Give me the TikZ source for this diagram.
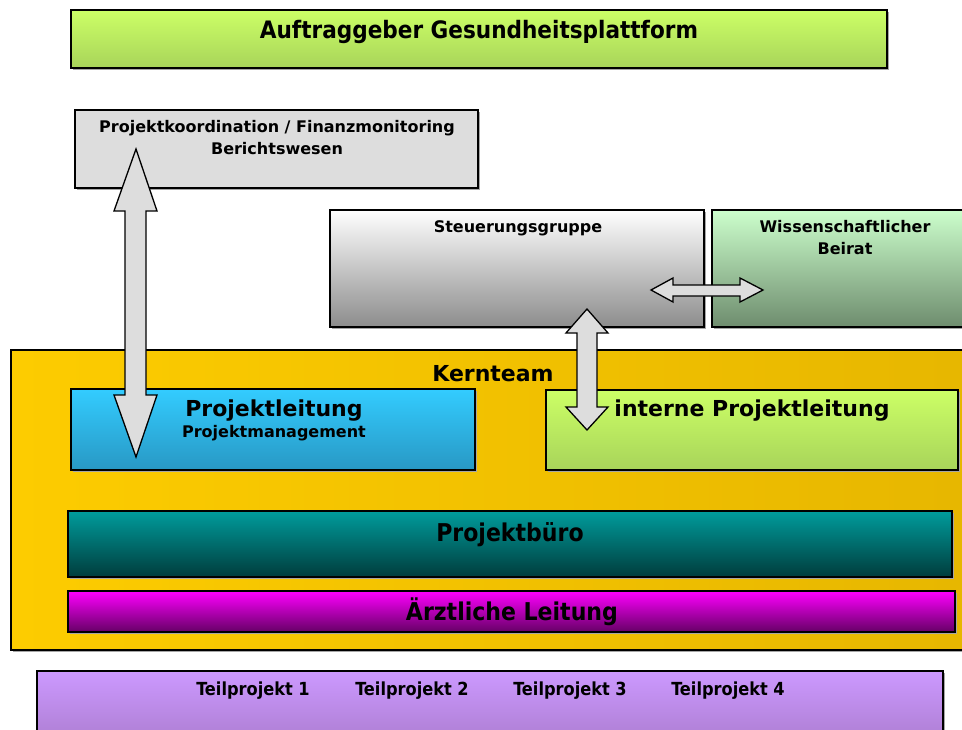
\documentclass[tikz,border=0pt]{standalone}
\usepackage{fontspec}
\setmainfont{DejaVu Sans}
\newfontfamily\condfont{DejaVu Sans Condensed}
\usetikzlibrary{shadows}

\definecolor{limetop}{HTML}{CCFF66}
\definecolor{limebot}{HTML}{A8D45A}
\definecolor{boxgray}{HTML}{DDDDDD}
\definecolor{steertop}{HTML}{FFFFFF}
\definecolor{steerbot}{HTML}{8C8C8C}
\definecolor{beirattop}{HTML}{CCFFCC}
\definecolor{beiratbot}{HTML}{6E8C6E}
\definecolor{kerntl}{HTML}{FDCC00}
\definecolor{kernbr}{HTML}{E6B600}
\definecolor{pltop}{HTML}{33CCFF}
\definecolor{plbot}{HTML}{2898C4}
\definecolor{buerotop}{HTML}{009C9C}
\definecolor{buerobot}{HTML}{003C3C}
\definecolor{arzttop}{HTML}{FF00FF}
\definecolor{arztbot}{HTML}{660066}
\definecolor{tptop}{HTML}{CC99FF}
\definecolor{tpbot}{HTML}{A97ACC}
\definecolor{arrowfill}{HTML}{DDDDDD}

\tikzset{
  orgbox/.style={draw=black, line width=1.6pt, inner sep=0pt, outer sep=0pt,
    anchor=north west,
    general shadow={fill=black!35, shadow xshift=1.5pt, shadow yshift=-1.5pt}},
  blockarrow/.style={fill=arrowfill, draw=black, line width=1.3pt, line join=miter},
  lbl/.style={anchor=base, inner sep=0pt, font=\bfseries},
  clbl/.style={anchor=base, inner sep=0pt, font=\condfont\bfseries},
  smalltxt/.style={lbl, font=\bfseries\fontsize{16}{19}\selectfont},
  bigtxt/.style={lbl, font=\bfseries\fontsize{22}{26}\selectfont},
  condtxt/.style={clbl, font=\condfont\bfseries\fontsize{24.5}{28}\selectfont},
}

\begin{document}
\begin{tikzpicture}[x=1pt, y=-1pt]
\clip (0,0) rectangle (962,729);
\fill[white] (0,0) rectangle (962,729);

% client
\node[orgbox, top color=limetop, bottom color=limebot,
      minimum width=816pt, minimum height=58pt] (client) at (71,10) {};
\node[condtxt, font=\condfont\bfseries\fontsize{24}{28}\selectfont] (clientlbl) at (479,38) {Auftraggeber Gesundheitsplattform};

% coordination
\node[orgbox, fill=boxgray, minimum width=403pt, minimum height=78pt] (koord) at (75,110) {};
\node[smalltxt] (koordA) at (277,132) {Projektkoordination / Finanzmonitoring};
\node[smalltxt] (koordB) at (277,154) {Berichtswesen};

% steering group and advisory board
\node[orgbox, top color=steertop, bottom color=steerbot,
      minimum width=374pt, minimum height=117pt] (steer) at (330,210) {};
\node[smalltxt] (steerlbl) at (518,232) {Steuerungsgruppe};

\node[orgbox, top color=beirattop, bottom color=beiratbot,
      minimum width=270pt, minimum height=117pt] (beirat) at (712,210) {};
\node[smalltxt] (beiratA) at (845,232) {Wissenschaftlicher};
\node[smalltxt] (beiratB) at (845,254) {Beirat};

% core team
\node[orgbox, shading=axis, shading angle=45, left color=kerntl, right color=kernbr,
      minimum width=990pt, minimum height=300pt] (kern) at (11,350) {};
\node[bigtxt] (kernlbl) at (493,381) {Kernteam};

\node[orgbox, top color=pltop, bottom color=plbot,
      minimum width=404pt, minimum height=81pt] (pl) at (71,389) {};
\node[bigtxt] (plA) at (274,416) {Projektleitung};
\node[smalltxt] (plB) at (274,437) {Projektmanagement};

\node[orgbox, top color=limetop, bottom color=limebot,
      minimum width=412pt, minimum height=80pt] (ipl) at (546,390) {};
\node[bigtxt] (ipllbl) at (752,416) {interne Projektleitung};

\node[orgbox, top color=buerotop, bottom color=buerobot,
      minimum width=884pt, minimum height=66pt] (buero) at (68,511) {};
\node[condtxt] (buerolbl) at (510,541) {Projektbüro};

\node[orgbox, top color=arzttop, bottom color=arztbot,
      minimum width=887pt, minimum height=41pt] (arzt) at (68,591) {};
\node[condtxt] (arztlbl) at (512,620) {Ärztliche Leitung};

% sub-projects
\node[orgbox, top color=tptop, bottom color=tpbot,
      minimum width=906pt, minimum height=80pt] (tp) at (37,671) {};
\foreach \i/\x in {1/253, 2/412, 3/570, 4/728}
  \node[clbl, font=\condfont\bfseries\fontsize{18}{21}\selectfont] (tp\i) at (\x,695) {Teilprojekt \i};

% block arrows
% coordination <-> project lead
\draw[blockarrow] (136,149) -- (157,211) -- (146,211) -- (146,395) -- (157,395)
  -- (136,457) -- (114,395) -- (125,395) -- (125,211) -- (114,211) -- cycle;
% steering group <-> internal project lead
\draw[blockarrow] (587,309) -- (608,333) -- (597,333) -- (597,407) -- (608,407)
  -- (587,430) -- (566,407) -- (577,407) -- (577,333) -- (566,333) -- cycle;
% steering group <-> advisory board
\draw[blockarrow] (651,290) -- (673,278) -- (673,285) -- (740,285) -- (740,278)
  -- (763,290) -- (740,302) -- (740,296) -- (673,296) -- (673,302) -- cycle;
\end{tikzpicture}
\end{document}
